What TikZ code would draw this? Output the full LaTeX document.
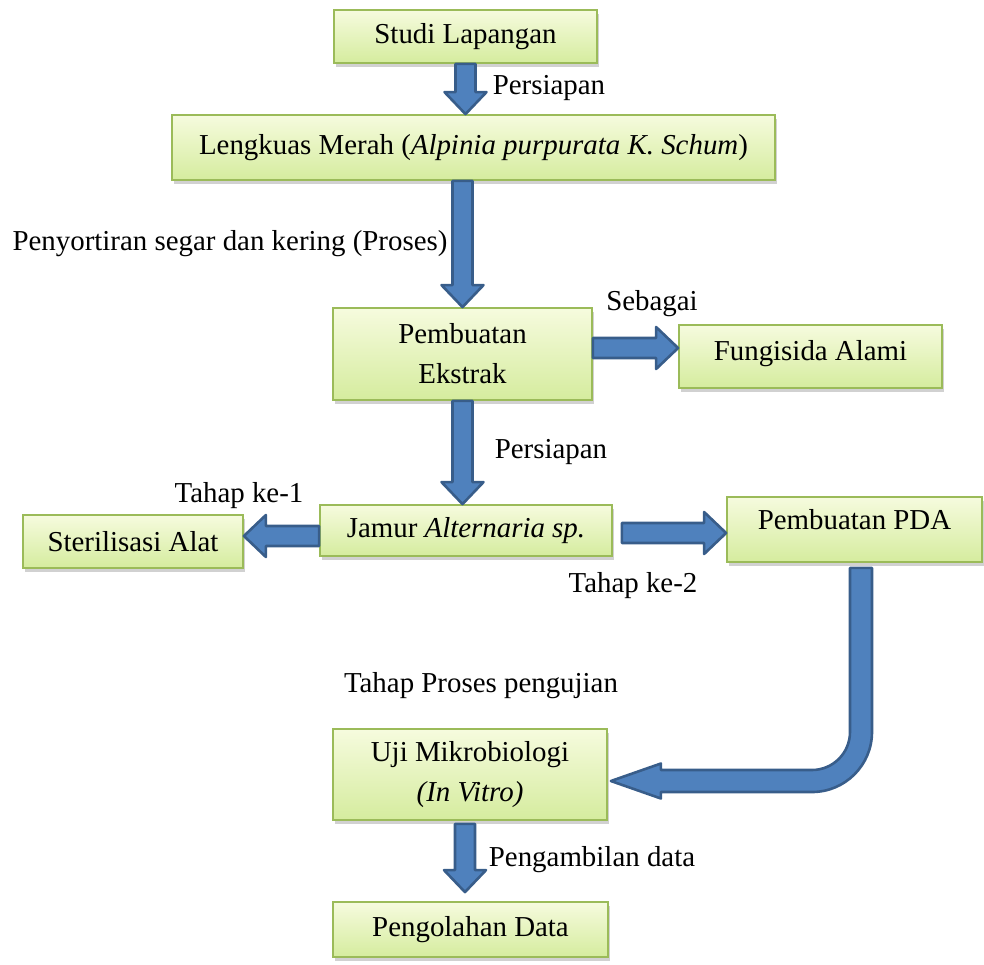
\documentclass[tikz,border=0pt]{standalone}
\usepackage{fontspec}
\setmainfont{Liberation Serif}
\usepackage{tikz}
\usetikzlibrary{calc}
\usetikzlibrary{shadows}
\definecolor{boxtop}{RGB}{246,251,222}
\definecolor{boxbottom}{RGB}{213,236,158}
\definecolor{boxline}{RGB}{155,187,89}
\definecolor{arrowfill}{RGB}{79,129,189}
\definecolor{arrowline}{RGB}{56,93,138}
\tikzstyle{stepbox}=[rectangle, draw=boxline, line width=0.9bp, top color=boxtop, bottom color=boxbottom, align=center, inner sep=2bp, box_shadow]
\tikzstyle{box_shadow}=[drop shadow={shadow xshift=1.2bp, shadow yshift=-2bp, opacity=0.3, fill=black!60}]
\tikzstyle{fatarrow}=[fill=arrowfill, draw=arrowline, line width=1.3bp, line join=round]
\tikzstyle{steplabel}=[inner sep=0pt]
% block arrow from #1 to the tip #2
\newcommand{\blockarrow}[2]{%
  \path ($(#2)!11bp!(#1)$) coordinate (hb);
  \draw[fatarrow] ($(#1)!5bp!90:(#2)$) -- ($(hb)!5bp!90:(#2)$) -- ($(hb)!10.5bp!90:(#2)$) -- (#2)
    -- ($(hb)!10.5bp!-90:(#2)$) -- ($(hb)!5bp!-90:(#2)$) -- ($(#1)!5bp!-90:(#2)$) -- cycle;}

\begin{document}
\begin{tikzpicture}[x=0.5bp, y=-0.5bp, font=\fontsize{14.5}{20}\selectfont]
\useasboundingbox (0,0) rectangle (984,965);
\node[stepbox, minimum width=131.5bp, minimum height=26.5bp] (studi) at (465.5,36.5) {Studi Lapangan};
\node[stepbox, minimum width=301.5bp, minimum height=32.5bp] (lengkuas) at (473.5,147.5) {Lengkuas Merah (\textit{Alpinia purpurata K. Schum})};
\node[stepbox, minimum width=129.5bp, minimum height=46bp] (ekstrak) at (462.5,354) {Pembuatan\\Ekstrak};
\node[stepbox, minimum width=131.5bp, minimum height=31.5bp, text depth=6bp] (fungisida) at (810.5,356.5) {Fungisida Alami};
\node[stepbox, minimum width=146bp, minimum height=25.5bp] (jamur) at (466,530.5) {Jamur \textit{Alternaria sp.}};
\node[stepbox, minimum width=110bp, minimum height=26.5bp] (steril) at (133,541.5) {Sterilisasi Alat};
\node[stepbox, minimum width=127.5bp, minimum height=32.5bp, text depth=10.5bp] (pda) at (854.5,529.5) {Pembuatan PDA};
\node[stepbox, minimum width=137bp, minimum height=45.5bp] (uji) at (470,774.5) {Uji Mikrobiologi\\\textit{(In Vitro)}};
\node[stepbox, minimum width=137.5bp, minimum height=27.5bp] (olah) at (470.5,929.5) {Pengolahan Data};

\node[steplabel] (persiapan1) at (549,88) {Persiapan};
\node[steplabel] (sortir) at (230,244) {Penyortiran segar dan kering (Proses)};
\node[steplabel] (sebagai) at (652,304) {Sebagai};
\node[steplabel] (persiapan2) at (551,452) {Persiapan};
\node[steplabel] (tahap1) at (239,496) {Tahap ke-1};
\node[steplabel] (tahap2) at (633,586) {Tahap ke-2};
\node[steplabel] (pengujian) at (481,686) {Tahap Proses pengujian};
\node[steplabel] (ambil) at (592,860) {Pengambilan data};

\coordinate (ekstrak-r) at ([yshift=3bp]ekstrak.east);
\coordinate (jamur-l) at ([yshift=-2.75bp]jamur.west);
\coordinate (jamur-r) at ([xshift=4.5bp,yshift=-1.25bp]jamur.east);
\coordinate (uji-b) at ([xshift=-2.5bp,yshift=-1.5bp]uji.south);
\coordinate (olah-t) at ([yshift=4.5bp]olah.north);
\coordinate (pda-b) at ([xshift=3.25bp,yshift=-2.5bp]pda.south);
\coordinate (uji-r) at ([xshift=1.5bp,yshift=-3.25bp]uji.east);
\coordinate (bend) at (pda-b |- uji-r);

\blockarrow{studi.south}{studi.south |- lengkuas.north}
\blockarrow{lengkuas.south -| ekstrak.north}{ekstrak.north}
\blockarrow{ekstrak-r}{ekstrak-r -| fungisida.west}
\blockarrow{ekstrak.south}{ekstrak.south |- jamur.north}
\blockarrow{jamur-l}{jamur-l -| steril.east}
\blockarrow{jamur-r}{jamur-r -| pda.west}
\blockarrow{uji-b}{uji-b |- olah-t}
\draw[fatarrow] ($(pda-b)+(-11,0)$) -- ($(pda-b)+(11,0)$) -- ($(bend)+(11,-49)$)
  arc[start angle=0, end angle=-90, radius=30bp] -- ($(uji-r)+(50,11)$) -- ($(uji-r)+(50,17.5)$)
  -- (uji-r) -- ($(uji-r)+(50,-17.5)$) -- ($(uji-r)+(50,-11)$) -- ($(bend)+(-49,-11)$)
  arc[start angle=-90, end angle=0, radius=19bp] -- cycle;
\end{tikzpicture}
\end{document}
